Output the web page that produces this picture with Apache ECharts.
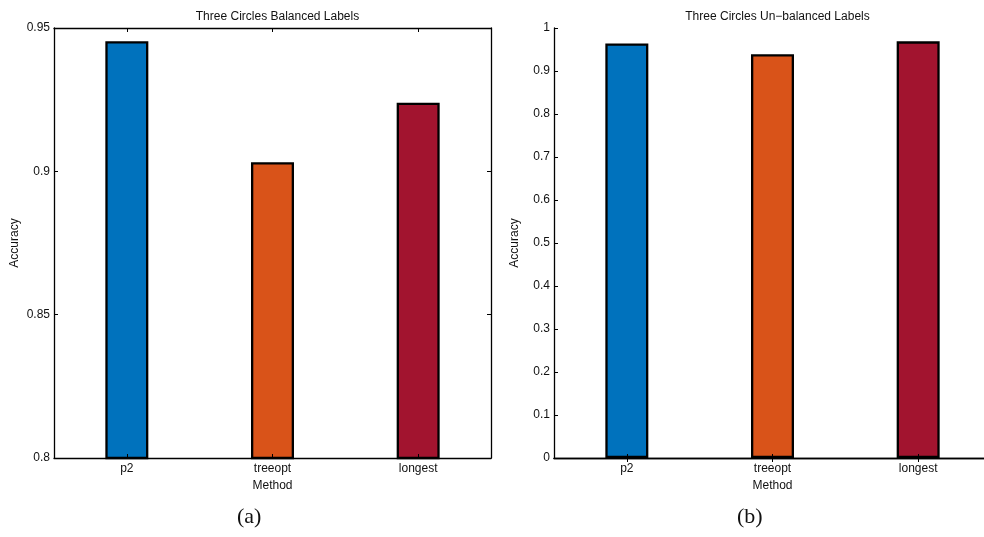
<!DOCTYPE html>
<html>
<head>
<meta charset="utf-8">
<style>
  html, body { margin: 0; padding: 0; background: #fff; overflow: hidden; }
  /* the canvas is a little wider than the window: the second panel's right edge falls outside */
  #chart { width: 1000px; height: 537px; }
</style>
<script src="https://cdn.jsdelivr.net/npm/echarts@6/dist/echarts.min.js"></script>
</head>
<body>
<div id="chart"></div>
<script>
// Method names on the category axis
const methods = ['p2', 'treeopt', 'longest'];
// Accuracy per method, balanced label set
const balancedAccuracy = [0.9454, 0.9032, 0.9239];
// Accuracy per method, un-balanced label set
const unbalancedAccuracy = [0.964, 0.939, 0.969];
// Bar fill per method
const methodColors = ['#0072BD', '#D95319', '#A2142F'];
// Panel titles and captions
const panelTitles = ['Three Circles Balanced Labels', 'Three Circles Un\u2212balanced Labels'];
const panelCaptions = ['(a)', '(b)'];

const FONT = '"Liberation Sans", Arial, Helvetica, sans-serif';
const SERIF = '"Liberation Serif", "DejaVu Serif", serif';

const grids = [
  { left: 54, top: 28, width: 437, height: 430 },
  { left: 554, top: 28, width: 437, height: 430 }
];
const gridCenters = grids.map(g => g.left + g.width / 2);

const yRanges = [
  { min: 0.8, max: 0.95, interval: 0.05 },
  { min: 0, max: 1, interval: 0.1 }
];

const fmt = v => String(+v.toFixed(2));

const xAxes = [];
const yAxes = [];
const series = [];
const titles = [];
const graphics = [];

[balancedAccuracy, unbalancedAccuracy].forEach((vals, i) => {
  // bottom category axis
  xAxes.push({
    type: 'category', gridIndex: i, data: methods, position: 'bottom',
    axisLine: { show: true, lineStyle: { color: '#000', width: 1.3 } },
    axisTick: { show: true, inside: true, alignWithLabel: true, length: 4, lineStyle: { color: '#000' } },
    axisLabel: { fontFamily: FONT, fontSize: 12, color: '#111', margin: 5 },
    name: 'Method', nameLocation: 'middle', nameGap: 20,
    nameTextStyle: { fontFamily: FONT, fontSize: 12, color: '#111' },
    z: 5
  });
  // top mirror axis with ticks only
  xAxes.push({
    type: 'category', gridIndex: i, data: methods, position: 'top',
    axisLine: { show: true, lineStyle: { color: '#000', width: 1.3 } },
    axisTick: { show: true, inside: true, alignWithLabel: true, length: 4, lineStyle: { color: '#000' } },
    axisLabel: { show: false }
  });
  // left value axis
  yAxes.push({
    type: 'value', gridIndex: i, position: 'left',
    min: yRanges[i].min, max: yRanges[i].max, interval: yRanges[i].interval,
    axisLine: { show: true, lineStyle: { color: '#000', width: 1.3 } },
    axisTick: { show: true, inside: true, length: 4, lineStyle: { color: '#000' } },
    axisLabel: { fontFamily: FONT, fontSize: 12, color: '#111', margin: 4, formatter: fmt },
    splitLine: { show: false },
    name: 'Accuracy', nameLocation: 'middle', nameRotate: 90, nameGap: 33,
    nameTextStyle: { fontFamily: FONT, fontSize: 12, color: '#111' }
  });
  // right mirror axis with ticks only
  yAxes.push({
    type: 'value', gridIndex: i, position: 'right',
    min: yRanges[i].min, max: yRanges[i].max, interval: yRanges[i].interval,
    axisLine: { show: true, lineStyle: { color: '#000', width: 1.3 } },
    axisTick: { show: true, inside: true, length: 4, lineStyle: { color: '#000' } },
    axisLabel: { show: false },
    splitLine: { show: false }
  });
  series.push({
    type: 'bar',
    xAxisIndex: i * 2, yAxisIndex: i * 2,
    barWidth: 43,
    data: vals.map((v, k) => ({
      value: v,
      itemStyle: { color: methodColors[k], borderColor: '#000', borderWidth: 2.3 }
    })),
    z: 2
  });
  titles.push({
    text: panelTitles[i],
    left: gridCenters[i], top: 6, textAlign: 'center',
    textStyle: { fontFamily: FONT, fontSize: 12, fontWeight: 'normal', color: '#111' }
  });
  graphics.push({
    type: 'text',
    left: (i === 0 ? 251 : 751) - 14, top: 506,
    style: { text: panelCaptions[i], font: '22px ' + SERIF, fill: '#111' }
  });
});

const chart = echarts.init(document.getElementById('chart'), null, { renderer: 'canvas' });
chart.setOption({
  animation: false,
  backgroundColor: '#fff',
  title: titles,
  grid: grids,
  xAxis: xAxes,
  yAxis: yAxes,
  series: series,
  graphic: graphics
});
</script>
</body>
</html>
